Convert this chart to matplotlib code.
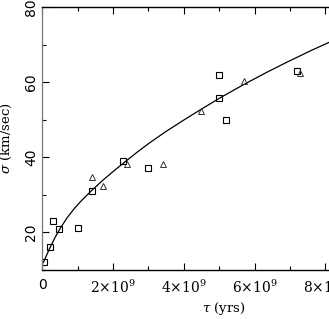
import numpy as np
import matplotlib.pyplot as plt
from matplotlib.ticker import MultipleLocator, FuncFormatter

# squares
sq_tau = [0.05, 0.21, 0.31, 0.46, 1.01, 1.40, 2.29, 3.00, 4.99, 4.99, 5.20, 7.20]
sq_sigma = [12.1, 16.1, 23.1, 21.0, 21.1, 31.1, 38.9, 37.2, 61.9, 55.9, 50.0, 63.0]

# triangles
tri_tau = [1.40, 1.71, 2.39, 3.40, 4.49, 5.69, 7.29]
tri_sigma = [34.7, 32.3, 38.1, 38.3, 52.2, 60.4, 62.5]

# fitted curve
fit_tau = [0.03, 0.1, 0.2, 0.35, 0.5, 0.7, 0.9, 1.1, 1.4, 1.7, 2.0, 2.3, 2.7,
           3.04, 3.5, 4.08, 4.46, 5.02, 5.68, 6.34, 6.91, 7.57, 8.2]
fit_sigma = [12.0, 13.5, 15.6, 18.5, 21.0, 23.9, 26.3, 28.4, 31.2, 33.8, 36.2,
             38.5, 41.5, 43.9, 46.9, 50.4, 52.6, 55.8, 59.3, 62.6, 65.3, 68.3,
             71.0]

plt.rcParams['font.family'] = ['DejaVu Sans']
plt.rcParams['mathtext.fontset'] = 'dejavuserif'

fig = plt.figure(figsize=(3.29, 3.19), dpi=100)
ax = fig.add_axes([0.1286, 0.1536, 0.882, 0.8245])

e9 = 1e9
ax.plot(np.array(fit_tau) * e9, fit_sigma, color='black', lw=0.9)
ax.plot(np.array(sq_tau) * e9, sq_sigma, ls='none', marker='s', ms=5,
        mfc='none', mec='black', mew=0.8)
ax.plot(np.array(tri_tau) * e9, tri_sigma, ls='none', marker='^', ms=5,
        mfc='none', mec='#333333', mew=0.7)

ax.set_xlim(0, 8.2e9)
ax.set_ylim(10, 80)

ax.xaxis.set_major_locator(MultipleLocator(2e9))
ax.xaxis.set_minor_locator(MultipleLocator(1e9))
ax.yaxis.set_major_locator(MultipleLocator(20))
ax.yaxis.set_minor_locator(MultipleLocator(10))


def xfmt(v, pos):
    if v == 0:
        return '0'
    return r'$%d{\times}10^{9}$' % round(v / e9)


ax.xaxis.set_major_formatter(FuncFormatter(xfmt))
ax.tick_params(which='both', direction='in', top=True, right=False)
ax.tick_params(which='major', length=5, width=0.8)
ax.tick_params(which='minor', length=3, width=0.8)
ax.tick_params(axis='x', labelsize=10, pad=6)
ax.tick_params(axis='y', labelsize=10, pad=3)
for lab in ax.get_yticklabels():
    lab.set_rotation(90)
    lab.set_va('center')

for s in ['top', 'bottom']:
    ax.spines[s].set_linewidth(1.0)
ax.spines['left'].set_color('#777777')
ax.spines['left'].set_linewidth(0.9)
ax.spines['right'].set_visible(False)

ax.set_xlabel(r'$\tau$ (yrs)', fontsize=9.5, family='DejaVu Serif')
ax.xaxis.set_label_coords(0.625, -0.115)
ax.set_ylabel(r'$\sigma$ (km/sec)', fontsize=9.5, family='DejaVu Serif')
ax.yaxis.set_label_coords(-0.098, 0.5)

fig.savefig('out.png', dpi=100)
